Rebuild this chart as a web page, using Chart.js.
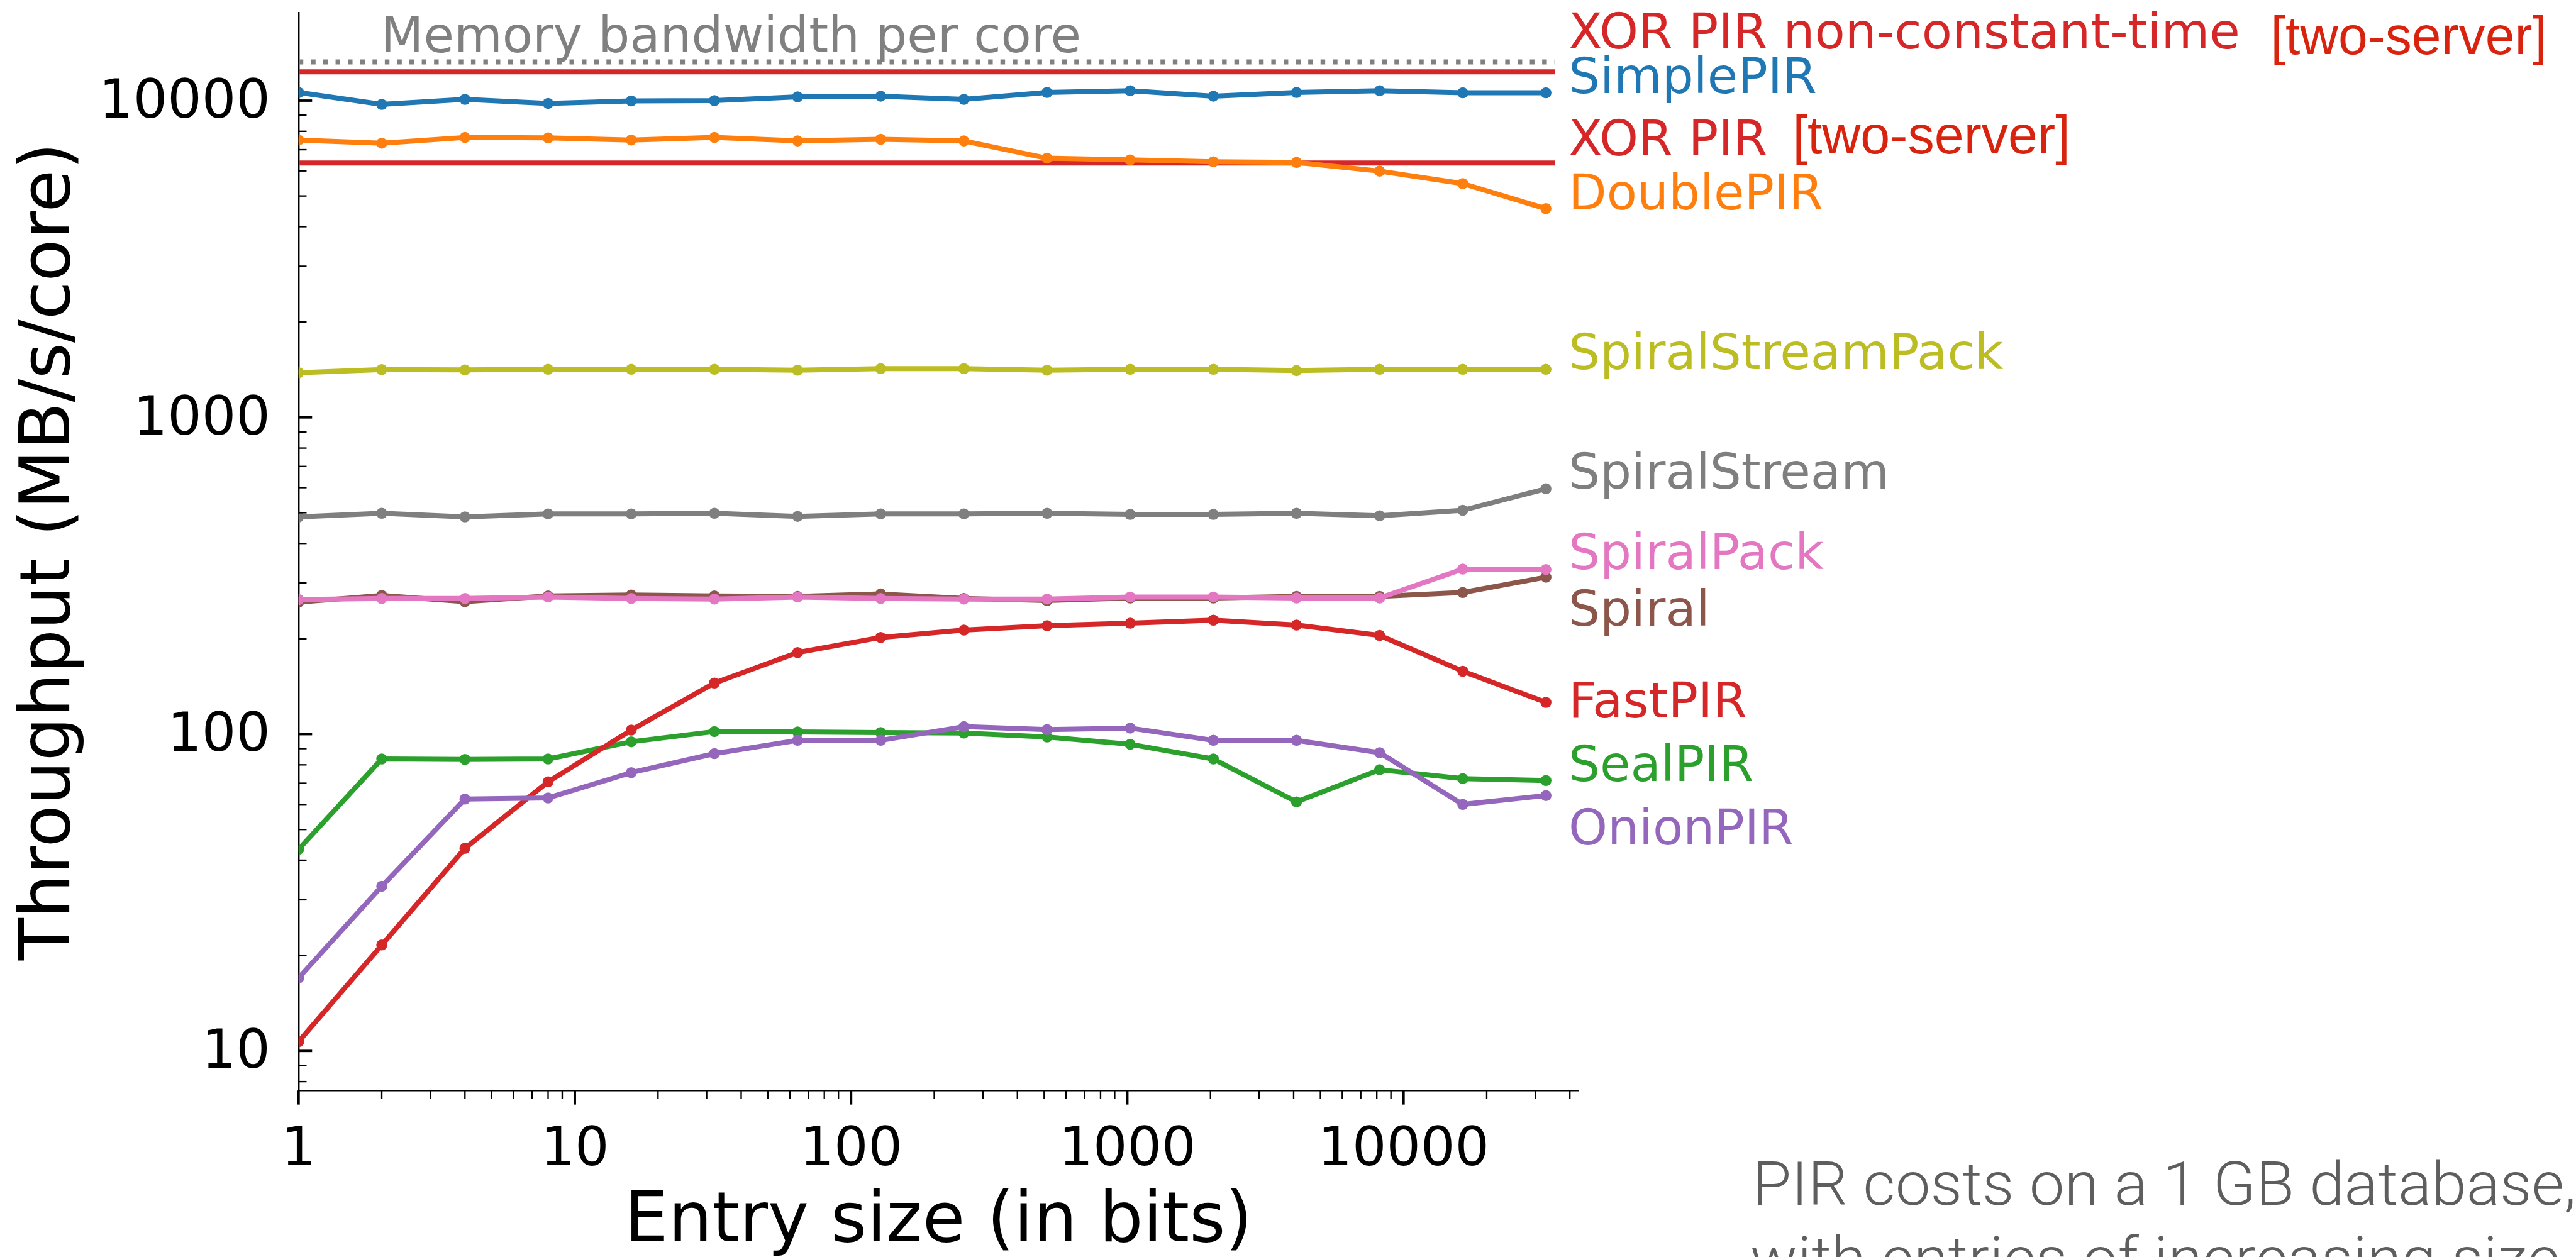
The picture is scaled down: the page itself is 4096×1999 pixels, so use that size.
<!DOCTYPE html>
<html>
<head>
<meta charset="utf-8">
<script src="https://cdn.jsdelivr.net/npm/chart.js@4"></script>
<style>
html,body{margin:0;padding:0;background:#fff;overflow:hidden;}
canvas{display:block;}
</style>
</head>
<body>
<canvas id="c" width="4096" height="1999" style="width:4096px;height:1999px"></canvas>
<script>
// ---------------- DATA ----------------
const entrySizeBits = [1, 2, 4, 8, 16, 32, 64, 128, 256, 512, 1024, 2048, 4096, 8192, 16384, 32768];

const simplePIR        = [10610, 9730, 10090, 9800, 9980, 10000, 10280, 10330, 10090, 10610, 10750, 10330, 10610, 10750, 10590, 10590];
const doublePIR        = [7510, 7340, 7650, 7630, 7510, 7650, 7460, 7550, 7460, 6580, 6500, 6410, 6380, 5990, 5470, 4560];
const sealPIR          = [43.3, 83.5, 83.2, 83.5, 94.6, 101.9, 101.6, 101.2, 100.8, 98.0, 92.9, 83.5, 61.1, 77.2, 72.4, 71.4];
const fastPIR          = [10.7, 21.6, 43.6, 70.7, 103, 145, 181, 202, 213, 220, 224, 229, 221, 205, 158, 126];
const onionPIR         = [17.0, 33.1, 62.4, 62.9, 75.6, 86.8, 95.6, 95.6, 105.6, 103.4, 104.5, 95.6, 95.6, 87.4, 60.0, 64.0];
const spiral           = [261, 274, 262, 273, 275, 273, 272, 277, 268, 264, 269, 269, 272, 272, 280, 313];
const spiralPack       = [266, 268, 268, 271, 268, 267, 271, 268, 267, 267, 271, 271, 269, 269, 332, 331];
const spiralStream     = [485, 498, 485, 496, 496, 498, 487, 496, 496, 498, 494, 494, 498, 489, 509, 595];
const spiralStreamPack = [1383, 1415, 1412, 1418, 1418, 1418, 1409, 1425, 1425, 1409, 1418, 1418, 1405, 1418, 1418, 1418];

const memoryBandwidthPerCore = 13250;
const xorPIRNonConstantTime  = 12330;
const xorPIRTwoServer        = 6350;
const referenceLineSpan      = [1, 35300];

const xTickValues = [1, 10, 100, 1000, 10000];
const yTickValues = [10, 100, 1000, 10000];

// ---------------- STYLE / LAYOUT ----------------
const K = 0.974;                 // reference -> window scale
const LINE_W = 8.2 * K;
const POINT_R = 9.0 * K;

const series = [
  {name: 'SimplePIR',        values: simplePIR,        color: '#1f77b4'},
  {name: 'DoublePIR',        values: doublePIR,        color: '#ff7f0e'},
  {name: 'SealPIR',          values: sealPIR,          color: '#2ca02c'},
  {name: 'FastPIR',          values: fastPIR,          color: '#d62728'},
  {name: 'OnionPIR',         values: onionPIR,         color: '#9467bd'},
  {name: 'Spiral',           values: spiral,           color: '#8c564b'},
  {name: 'SpiralPack',       values: spiralPack,       color: '#e377c2'},
  {name: 'SpiralStream',     values: spiralStream,     color: '#7f7f7f'},
  {name: 'SpiralStreamPack', values: spiralStreamPack, color: '#bcbd22'}
];

const refLines = [
  {name: 'Memory bandwidth per core', value: memoryBandwidthPerCore, color: '#808080', dash: [7.6 * K, 12.5 * K]},
  {name: 'XOR PIR non-constant-time', value: xorPIRNonConstantTime, color: '#d62728', dash: []},
  {name: 'XOR PIR', value: xorPIRTwoServer, color: '#d62728', dash: []}
];

// right-hand labels: baseline in reference pixels
const sideLabels = [
  {text: 'XOR PIR non-constant-time', color: '#d62728', base: 79},
  {text: 'SimplePIR',        color: '#1f77b4', base: 152},
  {text: 'XOR PIR',          color: '#d62728', base: 253.6},
  {text: 'DoublePIR',        color: '#ff7f0e', base: 341.8},
  {text: 'SpiralStreamPack', color: '#bcbd22', base: 603},
  {text: 'SpiralStream',     color: '#7f7f7f', base: 798},
  {text: 'SpiralPack',       color: '#e377c2', base: 929.4},
  {text: 'Spiral',           color: '#8c564b', base: 1022},
  {text: 'FastPIR',          color: '#d62728', base: 1171.3},
  {text: 'SealPIR',          color: '#2ca02c', base: 1275},
  {text: 'OnionPIR',         color: '#9467bd', base: 1378.9}
];
const twoServerTags = [
  {inkLeft: 3713, base: 88.3, inkWidth: 439},
  {inkLeft: 2932.6, base: 250.5, inkWidth: 441}
];

// ---------------- DATASETS ----------------
const datasets = [];
refLines.forEach(r => {
  datasets.push({
    label: r.name,
    data: referenceLineSpan.map(x => ({x, y: r.value})),
    showLine: true,
    borderColor: r.color,
    backgroundColor: r.color,
    borderWidth: 8.2 * K,
    borderDash: r.dash,
    borderCapStyle: 'butt',
    pointRadius: 0,
    pointHoverRadius: 0,
    clip: 0
  });
});
series.forEach(s => {
  datasets.push({
    label: s.name,
    data: entrySizeBits.map((x, i) => ({x, y: s.values[i]})),
    showLine: true,
    borderColor: s.color,
    backgroundColor: s.color,
    borderWidth: LINE_W,
    borderJoinStyle: 'round',
    borderCapStyle: 'round',
    pointRadius: POINT_R,
    pointBorderWidth: 0,
    pointBackgroundColor: s.color,
    pointHoverRadius: POINT_R,
    tension: 0,
    clip: 0
  });
});
// later entries drawn on top
datasets.forEach((d, i) => { d.order = datasets.length - i; });

// ---------------- PLUGINS ----------------
function nearly(a, b) { return Math.abs(Math.log10(a) - Math.log10(b)) < 1e-6; }

const tickMarks = {
  id: 'tickMarks',
  afterDraw(chart) {
    const {ctx, chartArea: a, scales: {x, y}} = chart;
    ctx.save();
    ctx.strokeStyle = '#000';
    ctx.lineCap = 'butt';
    for (let e = -1; e <= 6; e++) {
      for (let m = 1; m <= 9; m++) {
        const v = m * Math.pow(10, e);
        const major = m === 1;
        const len = (major ? 22 : 13) * K;
        ctx.lineWidth = (major ? 3.9 : 2.4) * K;
        if (v >= y.min && v <= y.max) {
          const p = y.getPixelForValue(v);
          ctx.beginPath(); ctx.moveTo(a.left, p); ctx.lineTo(a.left + len, p); ctx.stroke();
        }
        if (v >= x.min && v <= x.max) {
          const p = x.getPixelForValue(v);
          ctx.beginPath(); ctx.moveTo(p, a.bottom); ctx.lineTo(p, a.bottom + len + 1); ctx.stroke();
        }
      }
    }
    ctx.restore();
  }
};

function drawFitted(ctx, text, measureText, inkLeft, base, inkWidth) {
  const m = ctx.measureText(measureText);
  const ink = m.actualBoundingBoxLeft + m.actualBoundingBoxRight;
  const sx = inkWidth / ink;
  ctx.save();
  ctx.translate(inkLeft, base);
  ctx.scale(sx, 1);
  ctx.fillText(text, m.actualBoundingBoxLeft, 0);
  ctx.restore();
  return sx;
}

const annotations = {
  id: 'annotations',
  afterDraw(chart) {
    const {ctx} = chart;
    ctx.save();
    ctx.textAlign = 'left';
    ctx.textBaseline = 'alphabetic';
    // memory bandwidth caption
    ctx.font = `${81 * K}px "DejaVu Sans"`;
    ctx.fillStyle = '#808080';
    ctx.fillText('Memory bandwidth per core', 621.5 * K, 85.7 * K);
    // right-hand series labels
    sideLabels.forEach(l => {
      ctx.fillStyle = l.color;
      ctx.fillText(l.text, 2560.5 * K, l.base * K);
    });
    // [two-server] tags
    ctx.font = `${88 * K}px "Liberation Sans"`;
    ctx.fillStyle = '#d8230f';
    twoServerTags.forEach(t => {
      drawFitted(ctx, '[two-server]', '[two-server]', t.inkLeft * K, t.base * K, t.inkWidth * K);
    });
    // caption bottom right
    ctx.font = `300 ${99 * K}px Roboto`;
    ctx.fillStyle = '#5e5e5e';
    const m = ctx.measureText('PIR costs on a 1 GB database');
    const ink = m.actualBoundingBoxLeft + m.actualBoundingBoxRight;
    const sx = (1313 * K) / ink;
    ctx.save();
    ctx.translate(2869.8 * K, 1966.7 * K);
    ctx.scale(sx, 1);
    ctx.fillText('PIR costs on a 1 GB database,', m.actualBoundingBoxLeft, 0);
    ctx.fillText('with entries of increasing size.', m.actualBoundingBoxLeft - 4, 123 * K);
    ctx.restore();
    ctx.restore();
  }
};

// ---------------- CHART ----------------
const tickFont = {family: 'DejaVu Sans', size: 88 * K, lineHeight: 1};
const titleFont = {family: 'DejaVu Sans', size: 113 * K, lineHeight: 1};

new Chart(document.getElementById('c'), {
  type: 'scatter',
  data: {datasets},
  options: {
    responsive: false,
    animation: false,
    devicePixelRatio: 1,
    events: [],
    layout: {padding: {left: 0, top: 20.4 * K, right: 4096 - 2577 * K, bottom: 0}},
    plugins: {legend: {display: false}, tooltip: {enabled: false}},
    scales: {
      x: {
        type: 'logarithmic',
        position: 'bottom',
        min: 1,
        max: 43000,
        grid: {display: false},
        border: {display: true, color: '#000', width: 2.5 * K},
        ticks: {
          autoSkip: false, maxRotation: 0, minRotation: 0,
          padding: 46, color: '#000', font: tickFont,
          callback: v => { const t = xTickValues.find(tv => nearly(tv, v)); return t === undefined ? null : String(t); }
        },
        title: {display: true, text: 'Entry size (in bits)', color: '#000', font: titleFont, padding: {top: 0, bottom: -1}},
        afterFit(s) { s.height = 1999 - 1780.5 * K; s.paddingLeft = 0; s.paddingRight = 0; }
      },
      y: {
        type: 'logarithmic',
        position: 'left',
        min: 7.5,
        max: 18975,
        grid: {display: false},
        border: {display: true, color: '#000', width: 2.5 * K},
        ticks: {
          autoSkip: false, padding: 37, labelOffset: 4.5, color: '#000', font: tickFont,
          callback: v => { const t = yTickValues.find(tv => nearly(tv, v)); return t === undefined ? null : String(t); }
        },
        title: {display: true, text: 'Throughput (MB/s/core)', color: '#000', font: titleFont, padding: {top: 26, bottom: 0}},
        afterFit(s) { s.width = 487.5 * K; s.paddingTop = 0; s.paddingBottom = 0; }
      }
    }
  },
  plugins: [tickMarks, annotations]
});
</script>
</body>
</html>
